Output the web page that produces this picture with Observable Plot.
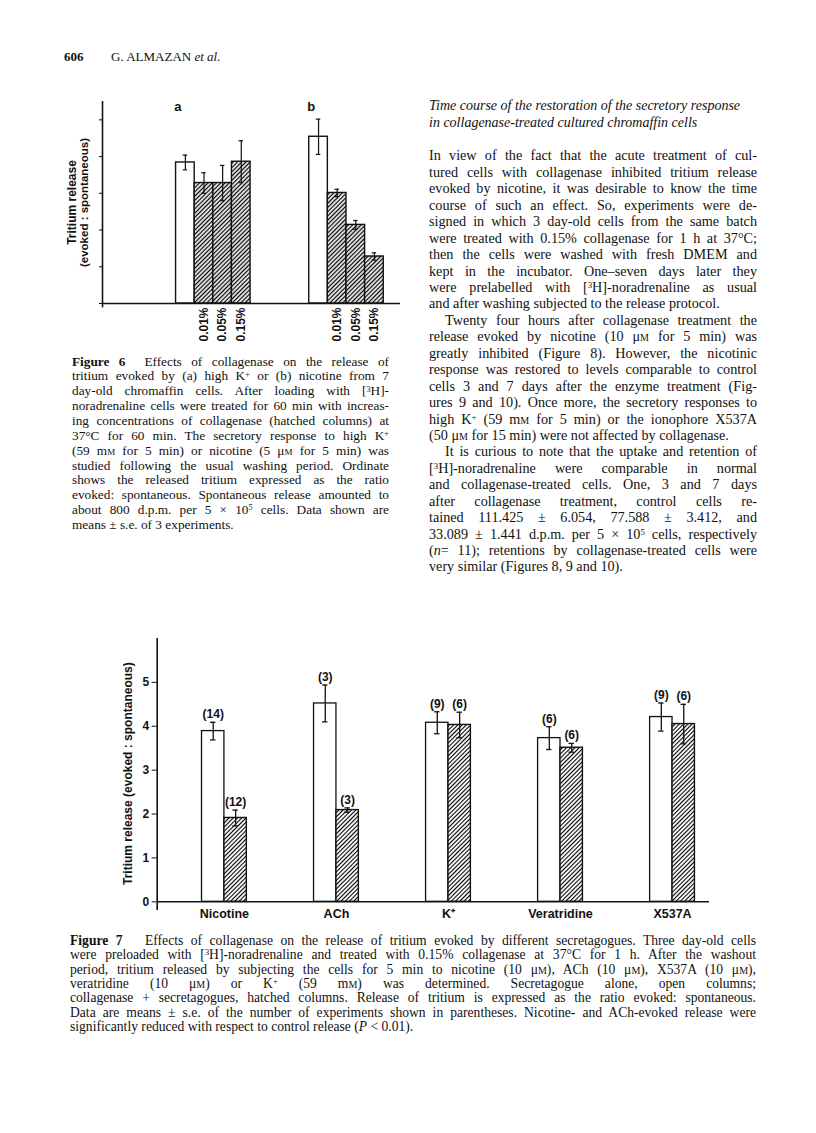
<!DOCTYPE html>
<html>
<head>
<meta charset="utf-8">
<script src="https://cdn.jsdelivr.net/npm/d3@7"></script>
<script src="https://cdn.jsdelivr.net/npm/@observablehq/plot@0.6"></script>
<style>
  html, body { margin: 0; padding: 0; background: #fff; }
  #page { position: relative; width: 816px; height: 1133px; background: #fff; overflow: hidden; color: #111; }
  .line { position: absolute; white-space: nowrap; font-family: "Liberation Serif", "Times New Roman", serif; }
  .sc { font-variant: small-caps; }
  sup { font-size: 0.62em; vertical-align: 0; position: relative; top: -0.45em; }
  .chart { position: absolute; }
  .hdr { position: absolute; font-family: "Liberation Serif", serif; font-size: 13px; line-height: 16px; }
</style>
</head>
<body>
<svg width="0" height="0" style="position:absolute">
  <defs>
    <pattern id="hatch6" patternUnits="userSpaceOnUse" width="3" height="3" patternTransform="rotate(45)">
      <rect width="3" height="3" fill="white"/>
      <line x1="1.5" y1="0" x2="1.5" y2="3" stroke="black" stroke-width="1.3"/>
    </pattern>
    <pattern id="hatch7" patternUnits="userSpaceOnUse" width="3" height="3" patternTransform="rotate(45)">
      <rect width="3" height="3" fill="white"/>
      <line x1="1.5" y1="0" x2="1.5" y2="3" stroke="black" stroke-width="1.1"/>
    </pattern>
  </defs>
</svg>
<div id="page"></div>
<script>
// ---------------- DATA ----------------
// Figure 6
const fig6Groups = ["a", "b"];
const fig6Conditions = ["Control", "0.01%", "0.05%", "0.15%"];
const fig6ValuesA = [3.84, 3.28, 3.28, 3.86];
const fig6ErrorsA = [0.20, 0.28, 0.48, 0.57];
const fig6ValuesB = [4.54, 3.01, 2.14, 1.28];
const fig6ErrorsB = [0.48, 0.10, 0.12, 0.10];
const fig6YTicks = [0, 1, 2, 3, 4, 5];

// Figure 7
const fig7Secretagogues = ["Nicotine", "ACh", "K⁺", "Veratridine", "X537A"];
const fig7ControlValues = [3.89, 4.52, 4.08, 3.73, 4.21];
const fig7ControlErrors = [0.20, 0.42, 0.25, 0.26, 0.32];
const fig7CollagenaseValues = [1.91, 2.09, 4.03, 3.51, 4.05];
const fig7CollagenaseErrors = [0.18, 0.05, 0.29, 0.10, 0.45];
const fig7ControlN = [14, 3, 9, 6, 9];
const fig7CollagenaseN = [12, 3, 6, 6, 6];
const fig7YTicks = [0, 1, 2, 3, 4, 5];

// ---------------- TEXT ----------------
const page = document.getElementById("page");

function textBlock(left, firstCenter, width, lh, fontSize, lines, extraStyle) {
  lines.forEach((raw, i) => {
    let t = raw, indent = 0, last = false;
    if (t.startsWith("~")) { indent = 16; t = t.slice(1); }
    if (t.endsWith("|")) { last = true; t = t.slice(0, -1); }
    const d = document.createElement("div");
    d.className = "line";
    d.style.left = (left + indent) + "px";
    d.style.top = (firstCenter + i * lh - lh / 2) + "px";
    d.style.width = (width - indent) + "px";
    d.style.height = lh + "px";
    d.style.lineHeight = lh + "px";
    d.style.fontSize = fontSize + "px";
    d.style.textAlign = last ? "left" : "justify";
    d.style.textAlignLast = last ? "left" : "justify";
    if (extraStyle) Object.assign(d.style, extraStyle);
    d.innerHTML = t;
    page.appendChild(d);
  });
}

// running head
const h1 = document.createElement("div");
h1.className = "hdr"; h1.style.left = "64px"; h1.style.top = "49px";
h1.innerHTML = "<b>606</b>";
page.appendChild(h1);
const h2 = document.createElement("div");
h2.className = "hdr"; h2.style.left = "111px"; h2.style.top = "49px";
h2.innerHTML = "G. ALMAZAN <i>et al.</i>";
page.appendChild(h2);

// Figure 6 caption
textBlock(72, 362, 317, 14.85, 13.3, [
  "<b>Figure 6</b>&nbsp; Effects of collagenase on the release of",
  "tritium evoked by (a) high K<sup>+</sup> or (b) nicotine from 7",
  "day-old chromaffin cells. After loading with [<sup>3</sup>H]-",
  "noradrenaline cells were treated for 60 min with increas-",
  "ing concentrations of collagenase (hatched columns) at",
  "37°C for 60 min. The secretory response to high K<sup>+</sup>",
  "(59 m<span class='sc'>m</span> for 5 min) or nicotine (5 μ<span class='sc'>m</span> for 5 min) was",
  "studied following the usual washing period. Ordinate",
  "shows the released tritium expressed as the ratio",
  "evoked: spontaneous. Spontaneous release amounted to",
  "about 800 d.p.m. per 5 × 10<sup>5</sup> cells. Data shown are",
  "means ± s.e. of 3 experiments.|"
]);

// Right column heading
textBlock(429, 106.7, 328, 16.6, 14, [
  "Time course of the restoration of the secretory response|",
  "in collagenase-treated cultured chromaffin cells|"
], { fontStyle: "italic" });

// Right column body
textBlock(429, 155.7, 328, 16.44, 14.2, [
  "In view of the fact that the acute treatment of cul-",
  "tured cells with collagenase inhibited tritium release",
  "evoked by nicotine, it was desirable to know the time",
  "course of such an effect. So, experiments were de-",
  "signed in which 3 day-old cells from the same batch",
  "were treated with 0.15% collagenase for 1 h at 37°C;",
  "then the cells were washed with fresh DMEM and",
  "kept in the incubator. One–seven days later they",
  "were prelabelled with [<sup>3</sup>H]-noradrenaline as usual",
  "and after washing subjected to the release protocol.|",
  "~Twenty four hours after collagenase treatment the",
  "release evoked by nicotine (10 μ<span class='sc'>m</span> for 5 min) was",
  "greatly inhibited (Figure 8). However, the nicotinic",
  "response was restored to levels comparable to control",
  "cells 3 and 7 days after the enzyme treatment (Fig-",
  "ures 9 and 10). Once more, the secretory responses to",
  "high K<sup>+</sup> (59 m<span class='sc'>m</span> for 5 min) or the ionophore X537A",
  "(50 μ<span class='sc'>m</span> for 15 min) were not affected by collagenase.|",
  "~It is curious to note that the uptake and retention of",
  "[<sup>3</sup>H]-noradrenaline were comparable in normal",
  "and collagenase-treated cells. One, 3 and 7 days",
  "after collagenase treatment, control cells re-",
  "tained 111.425 ± 6.054, 77.588 ± 3.412, and",
  "33.089 ± 1.441 d.p.m. per 5 × 10<sup>5</sup> cells, respectively",
  "(<i>n</i>= 11); retentions by collagenase-treated cells were",
  "very similar (Figures 8, 9 and 10).|"
]);

// Figure 7 caption
textBlock(70, 941, 686, 14.35, 13.6, [
  "<b>Figure 7</b>&nbsp;&nbsp; Effects of collagenase on the release of tritium evoked by different secretagogues. Three day-old cells",
  "were preloaded with [<sup>3</sup>H]-noradrenaline and treated with 0.15% collagenase at 37°C for 1 h. After the washout",
  "period, tritium released by subjecting the cells for 5 min to nicotine (10 μ<span class='sc'>m</span>), ACh (10 μ<span class='sc'>m</span>), X537A (10 μ<span class='sc'>m</span>),",
  "veratridine (10 μ<span class='sc'>m</span>) or K<sup>+</sup> (59 m<span class='sc'>m</span>) was determined. Secretagogue alone, open columns;",
  "collagenase + secretagogues, hatched columns. Release of tritium is expressed as the ratio evoked: spontaneous.",
  "Data are means ± s.e. of the number of experiments shown in parentheses. Nicotine- and ACh-evoked release were",
  "significantly reduced with respect to control release (<i>P</i> &lt; 0.01).|"
]);

// ---------------- FIGURE 6 ----------------
const fig6GroupStart = [3.95, 11.1];
const fig6Vals = [fig6ValuesA, fig6ValuesB];
const fig6Errs = [fig6ErrorsA, fig6ErrorsB];
const fig6Rows = [];
fig6Groups.forEach((g, gi) => {
  fig6Conditions.forEach((c, ci) => {
    const x1 = fig6GroupStart[gi] + ci;
    fig6Rows.push({ group: g, cond: c, value: fig6Vals[gi][ci], err: fig6Errs[gi][ci],
      x1, x2: x1 + 1, xc: x1 + 0.5, hatched: ci > 0 });
  });
});
const fig6Open = fig6Rows.filter(d => !d.hatched);
const fig6Hatched = fig6Rows.filter(d => d.hatched);
const cap6 = 0.12;

const fig6 = Plot.plot({
  width: 370, height: 260,
  marginLeft: 62, marginRight: 10, marginTop: 11, marginBottom: 47,
  style: { background: "transparent", fontFamily: "Liberation Sans, Arial, sans-serif", fontSize: "12px", color: "#111" },
  x: { domain: [0, 16], axis: null },
  y: { domain: [0, 5.5], ticks: fig6YTicks, tickSize: 3, tickPadding: 0, tickFormat: () => "", label: null },
  marks: [
    Plot.rectY(fig6Open, { x1: "x1", x2: "x2", y: "value", fill: "white", stroke: "#111", strokeWidth: 1.4 }),
    Plot.rectY(fig6Hatched, { x1: "x1", x2: "x2", y: "value", fill: "url(#hatch6)", stroke: "#111", strokeWidth: 1.4 }),
    Plot.ruleX(fig6Rows, { x: "xc", y1: d => d.value - d.err, y2: d => d.value + d.err, stroke: "#111", strokeWidth: 1.2 }),
    Plot.ruleY(fig6Rows, { y: d => d.value + d.err, x1: d => d.xc - cap6, x2: d => d.xc + cap6, stroke: "#111", strokeWidth: 1.2 }),
    Plot.ruleY(fig6Rows, { y: d => d.value - d.err, x1: d => d.xc - cap6, x2: d => d.xc + cap6, stroke: "#111", strokeWidth: 1.2 }),
    Plot.ruleY([0], { x1: 0, x2: 16, stroke: "#111", strokeWidth: 1.6 }),
    Plot.ruleX([0], { y1: -0.12, y2: 5.5, stroke: "#111", strokeWidth: 1.6 }),
    Plot.text(fig6Open, { x: d => d.x1 + 0.1, y: 5.35, text: "group", fontWeight: "bold", fontSize: 13 }),
    Plot.text(fig6Hatched, { x: "xc", y: 0, text: "cond", rotate: -90, textAnchor: "end", dy: 4, fontWeight: "bold", fontSize: 12 }),
    Plot.text(["Tritium release"], { frameAnchor: "left", textAnchor: "middle", rotate: -90, dx: -30.5, fontWeight: "bold", fontSize: 12 }),
    Plot.text(["(evoked : spontaneous)"], { frameAnchor: "left", textAnchor: "middle", rotate: -90, dx: -18.5, fontWeight: "bold", fontSize: 11.5 })
  ]
});
fig6.classList.add("chart");
fig6.style.left = "40px"; fig6.style.top = "90px";
page.appendChild(fig6);

// ---------------- FIGURE 7 ----------------
const barW = 0.2;
const cap7 = 0.024;
const fig7Rows = [];
fig7Secretagogues.forEach((s, i) => {
  fig7Rows.push({ name: s, kind: "control", value: fig7ControlValues[i], err: fig7ControlErrors[i], n: fig7ControlN[i],
    x1: i - barW, x2: i, xc: i - barW / 2 });
  fig7Rows.push({ name: s, kind: "collagenase", value: fig7CollagenaseValues[i], err: fig7CollagenaseErrors[i], n: fig7CollagenaseN[i],
    x1: i, x2: i + barW, xc: i + barW / 2 });
});
const fig7Open = fig7Rows.filter(d => d.kind === "control");
const fig7Hatched = fig7Rows.filter(d => d.kind === "collagenase");

const fig7 = Plot.plot({
  width: 680, height: 310,
  marginLeft: 96.7, marginRight: 31, marginTop: 18, marginBottom: 28.7,
  style: { background: "transparent", fontFamily: "Liberation Sans, Arial, sans-serif", fontSize: "12px", fontWeight: "bold", color: "#111" },
  x: { domain: [-0.6, 4.33], axis: null },
  y: { domain: [0, 6], ticks: fig7YTicks, tickSize: 5, tickPadding: 3, tickFormat: d => String(d), label: null },
  marks: [
    Plot.rectY(fig7Open, { x1: "x1", x2: "x2", y: "value", fill: "white", stroke: "#111", strokeWidth: 1.3 }),
    Plot.rectY(fig7Hatched, { x1: "x1", x2: "x2", y: "value", fill: "url(#hatch7)", stroke: "#111", strokeWidth: 1.4 }),
    Plot.ruleX(fig7Rows, { x: "xc", y1: d => d.value - d.err, y2: d => d.value + d.err, stroke: "#111", strokeWidth: 1.3 }),
    Plot.ruleY(fig7Rows, { y: d => d.value + d.err, x1: d => d.xc - cap7, x2: d => d.xc + cap7, stroke: "#111", strokeWidth: 1.3 }),
    Plot.ruleY(fig7Rows, { y: d => d.value - d.err, x1: d => d.xc - cap7, x2: d => d.xc + cap7, stroke: "#111", strokeWidth: 1.3 }),
    Plot.ruleY([0], { x1: -0.6, x2: 4.33, stroke: "#111", strokeWidth: 1.6 }),
    Plot.ruleX([-0.6], { y1: -0.2, y2: 6, stroke: "#111", strokeWidth: 1.6 }),
    Plot.text(fig7Rows, { x: "xc", y: d => d.value + d.err, text: d => `(${d.n})`, lineAnchor: "bottom", dy: -4, fontWeight: "bold", fontSize: 12 }),
    Plot.text(fig7Secretagogues, { x: (d, i) => i, y: 0, text: d => d, lineAnchor: "top", dy: 7, fontWeight: "bold", fontSize: 12.5 }),
    Plot.text(["Tritium release (evoked : spontaneous)"], { frameAnchor: "left", textAnchor: "middle", rotate: -90, dx: -28.7, dy: 3.5, fontWeight: "bold", fontSize: 12 })
  ]
});
fig7.classList.add("chart");
fig7.style.left = "60px"; fig7.style.top = "620px";
page.appendChild(fig7);
</script>
</body>
</html>
